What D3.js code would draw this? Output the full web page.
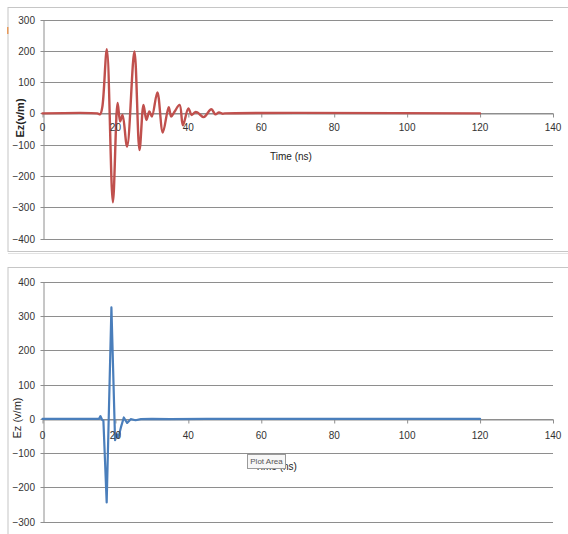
<!DOCTYPE html>
<html><head><meta charset="utf-8">
<script src="https://cdn.jsdelivr.net/npm/d3@7"></script>
<style>
body{margin:0;background:#fff;}
svg{display:block;}
text{font-family:"Liberation Sans",Arial,sans-serif;}
</style></head>
<body>
<svg id="c" width="568" height="534"></svg>
<script>
// ---- data ----
const xTicks = [0, 20, 40, 60, 80, 100, 120, 140];
const topYTicks = [300, 200, 100, 0, -100, -200, -300, -400];
const bottomYTicks = [400, 300, 200, 100, 0, -100, -200, -300];

const topTime  = [0, 15, 15.8, 16.4, 17.65, 19.3, 20.6, 21.3, 21.95, 23.2, 25.2, 26.6, 27.7, 28.5, 29.3, 30.0, 31.5, 33.0, 34.6, 35.3, 36.2, 37.6, 38.5, 40.0, 40.9, 41.9, 42.6, 44.2, 46.3, 47.4, 48.4, 49.3, 50, 120];
const topEz    = [0, 0, -3, 20, 205, -284, 33, -26, -5, -106, 198, -117, 27, -21, 6, -10, 67, -61, 20, -10, 5, 27, -38, 16, -5, 4, 2, -12, 13, -3, 3, -1, 0, 0];

const bottomTime = [0, 15.5, 15.9, 16.3, 16.7, 17.6, 18.9, 19.9, 20.4, 20.8, 21.5, 22.3, 23.2, 24.2, 25.5, 27, 30, 35, 45, 120];
const bottomEz   = [0, 0, 8, -2, -5, -244, 325, -62, -45, -55, -25, 4, -12, -1, -4, -1, 0, -1, 0, 0];

const topTitleY = "Ez(v/m)";
const bottomTitleY = "Ez (v/m)";
const titleX = "Time (ns)";

const svg = d3.select("#c");

function drawChart(opt){
  const g = svg.append("g");
  // chart border
  g.append("rect").attr("x", opt.bx).attr("y", opt.by).attr("width", opt.bw).attr("height", opt.bh)
    .attr("fill", "#fff").attr("stroke", "#c6c6c6").attr("stroke-width", 1);

  const x = d3.scaleLinear().domain([0, 140]).range([42.5, 553]);
  const y = d3.scaleLinear().domain([opt.yTicks[0], opt.yTicks[opt.yTicks.length-1]]).range([opt.yTop, opt.yBot]);

  // gridlines
  g.append("g").selectAll("line").data(opt.yTicks).join("line")
    .attr("x1", x(0)).attr("x2", x(140))
    .attr("y1", d => Math.round(y(d)) + 0.5).attr("y2", d => Math.round(y(d)) + 0.5)
    .attr("stroke", "#8e8e8e").attr("stroke-width", 1);

  // y axis
  const ya = d3.axisLeft(y).tickValues(opt.yTicks).tickSize(3).tickSizeOuter(0).tickPadding(5);
  const yg = g.append("g").attr("transform", `translate(${Math.round(x(0))+0.5},0)`).call(ya);
  yg.select(".domain").attr("stroke", "#8e8e8e");
  yg.selectAll(".tick line").attr("stroke", "#8e8e8e");
  yg.selectAll(".tick text").attr("font-size", 10).attr("fill", "#333").attr("x", -8.5);
  yg.selectAll(".tick").attr("transform", d => `translate(0,${Math.round(y(d))+0.5})`);

  // x axis at y=0
  const xa = d3.axisBottom(x).tickValues(xTicks).tickSize(4).tickSizeOuter(0).tickFormat(d3.format("d"));
  const y0 = Math.round(y(0)) + 0.5;
  const xg = g.append("g").attr("transform", `translate(0,${y0})`).call(xa);
  xg.select(".domain").attr("stroke", "#8e8e8e");
  xg.selectAll(".tick line").attr("stroke", "#8e8e8e");
  xg.selectAll(".tick text").remove();

  // series
  const line = d3.line().x(d => x(d[0])).y(d => y(d[1])).curve(opt.curve);
  g.append("path").datum(opt.t.map((t, i) => [t, opt.v[i]]))
    .attr("d", line).attr("fill", "none")
    .attr("stroke", opt.color).attr("stroke-width", opt.lw)
    .attr("stroke-linejoin", "round").attr("stroke-linecap", "round");

  // x tick labels (drawn over line)
  g.append("g").selectAll("text").data(xTicks).join("text")
    .attr("x", d => x(d)).attr("y", y0 + opt.xLabOff)
    .attr("text-anchor", "middle").attr("dominant-baseline", "middle")
    .attr("font-size", 10).attr("fill", "#333").text(d => d);

  // titles
  g.append("text").attr("x", opt.xtX).attr("y", opt.xtY)
    .attr("text-anchor", "middle").attr("dominant-baseline", "middle")
    .attr("font-size", 10).attr("fill", "#222").text(titleX);
  g.append("text")
    .attr("transform", `translate(${opt.ytX},${opt.ytY}) rotate(-90)`)
    .attr("text-anchor", "middle").attr("dominant-baseline", "middle")
    .attr("font-size", 11).attr("font-weight", opt.ytBold ? "bold" : "normal")
    .attr("fill", "#222").text(opt.yTitle);
  return {x, y, g};
}

drawChart({
  bx: 8, by: 7.5, bw: 570, bh: 244, yTicks: topYTicks, yTop: 19.5, yBot: 238.5,
  t: topTime, v: topEz, color: "#c0504d", lw: 2.4, curve: d3.curveCatmullRom.alpha(0.5),
  xLabOff: 15, xtX: 291, xtY: 157, ytX: 21, ytY: 118, yTitle: topTitleY, ytBold: true
});
// soft shadow line under the top chart
svg.append("line").attr("x1", 8).attr("x2", 568).attr("y1", 253.5).attr("y2", 253.5)
  .attr("stroke", "#e2e2e2").attr("stroke-width", 1);
// small orange marker at top-left edge
svg.append("rect").attr("x", 7).attr("y", 27).attr("width", 1.5).attr("height", 7).attr("fill", "#e89a5a");

const b = drawChart({
  bx: 8, by: 267.5, bw: 570, bh: 280, yTicks: bottomYTicks, yTop: 281.7, yBot: 521.7,
  t: bottomTime, v: bottomEz, color: "#4a7ebb", lw: 2.2, curve: d3.curveLinear,
  xLabOff: 17, xtX: 276, xtY: 467, ytX: 18, ytY: 418, yTitle: bottomTitleY, ytBold: false
});

// "Plot Area" tooltip
const tip = svg.append("g");
tip.append("rect").attr("x", 247.5).attr("y", 454.5).attr("width", 38).attr("height", 14)
  .attr("fill", "#f7f7f7").attr("stroke", "#9a9a9a").attr("stroke-width", 1);
tip.append("text").attr("x", 266.5).attr("y", 462).attr("text-anchor", "middle")
  .attr("dominant-baseline", "middle").attr("font-size", 8).attr("fill", "#555").text("Plot Area");
</script>
</body></html>
